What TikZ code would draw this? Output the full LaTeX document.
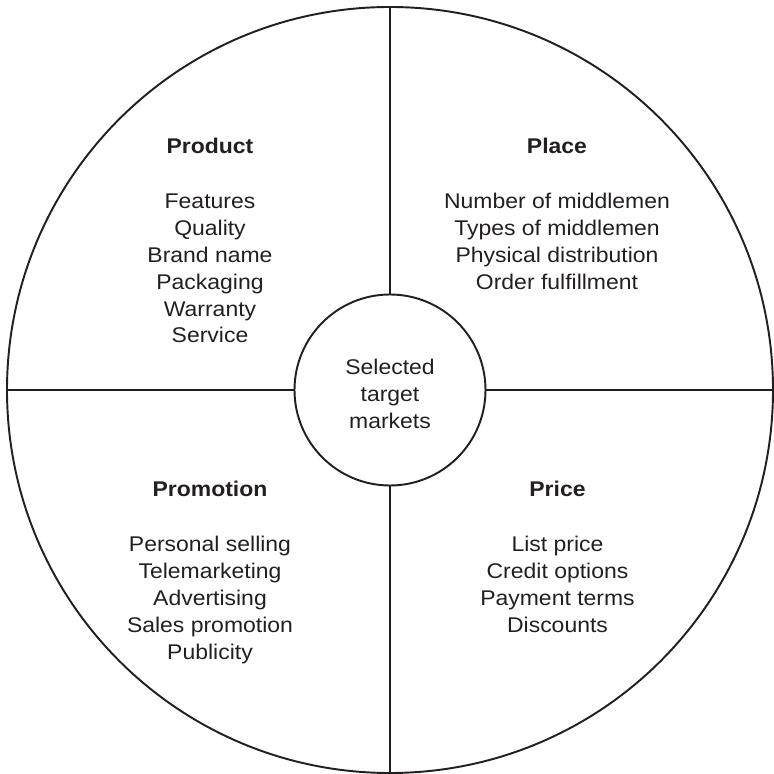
\documentclass[tikz,border=0pt]{standalone}
\usepackage{fontspec}
\setmainfont{Liberation Sans}[FakeStretch=1.08]

\definecolor{ink}{HTML}{231F20}

\tikzset{
  ring/.style={draw=ink, line width=1.1pt},
  head/.style={anchor=base, inner sep=0pt, text=ink,
    font=\fontsize{12.1}{14.5}\selectfont\bfseries},
  item/.style={anchor=base, inner sep=0pt, text=ink,
    font=\fontsize{12.1}{14.5}\selectfont},
}

\begin{document}
\begin{tikzpicture}
    \useasboundingbox (-7.8,-7.68) rectangle (7.68,7.8);

    % wheel and hub
    \draw[ring] (0,0) circle (7.66);
    \node[ring, circle, minimum size=3.82cm, inner sep=0pt] (hub) at (0,0) {};

    \coordinate (N) at (90:7.66);
    \coordinate (S) at (270:7.66);
    \coordinate (W) at (180:7.66);
    \coordinate (E) at (0:7.66);

    \draw[ring] (N) -- (hub.north);
    \draw[ring] (hub.south) -- (S);
    \draw[ring] (W) -- (hub.west);
    \draw[ring] (hub.east) -- (E);

    % centre text
    \foreach \t [count=\i] in {Selected, target, markets}
        \node[item] (hub-\i) at (0, {0.314-0.538*(\i-1)}) {\t};

    % the four Ps
    \node[head] (product) at (-3.6,4.72) {Product};
    \foreach \t [count=\i] in {Features, Quality, Brand name, Packaging, Warranty, Service}
        \node[item] (product-\i) at (-3.6, {3.63-0.538*(\i-1)}) {\t};

    \node[head] (place) at (3.34,4.72) {Place};
    \foreach \t [count=\i] in {Number of middlemen, Types of middlemen, Physical distribution, Order fulfillment}
        \node[item] (place-\i) at (3.34, {3.63-0.538*(\i-1)}) {\t};

    \node[head] (promotion) at (-3.6,-2.134) {Promotion};
    \foreach \t [count=\i] in {Personal selling, Telemarketing, Advertising, Sales promotion, Publicity}
        \node[item] (promotion-\i) at (-3.6, {-3.234-0.538*(\i-1)}) {\t};

    \node[head] (price) at (3.35,-2.134) {Price};
    \foreach \t [count=\i] in {List price, Credit options, Payment terms, Discounts}
        \node[item] (price-\i) at (3.35, {-3.234-0.538*(\i-1)}) {\t};
\end{tikzpicture}
\end{document}
